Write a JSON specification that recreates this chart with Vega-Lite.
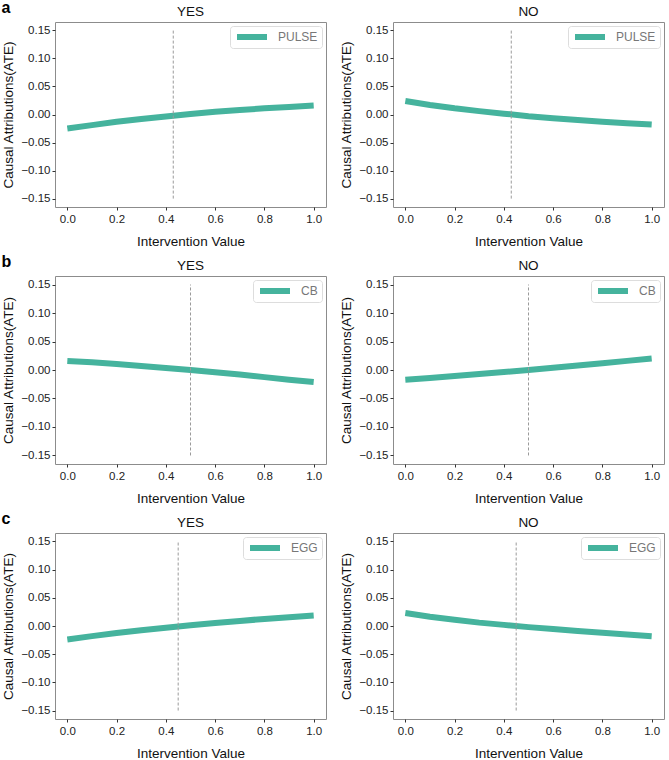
{
  "$schema": "https://vega.github.io/schema/vega-lite/v6.json",
  "padding": {"left": 1, "top": 0, "right": 4, "bottom": 1},
  "background": "white",
  "config": {
    "font": "Liberation Sans",
    "view": {"stroke": "#8c8c8c", "strokeWidth": 1},
    "axis": {"grid": false, "domain": false, "tickColor": "#333", "tickSize": 3, "labelColor": "#222", "labelFontSize": 11.5, "labelFont": "Liberation Sans", "labelOverlap": false, "titleFont": "Liberation Sans", "titleFontSize": 13.5, "titleFontWeight": "normal", "titleColor": "#111"},
    "axisX": {"titlePadding": 10, "labelPadding": 3},
    "axisY": {"titlePadding": 5, "labelPadding": 2},
    "title": {"font": "Liberation Sans", "fontSize": 13.5, "fontWeight": "normal", "color": "#111", "offset": 0},
    "legend": {"orient": "top-right", "offset": 4, "title": null, "strokeColor": "#dddddd", "padding": 4, "cornerRadius": 3, "fillColor": "white", "symbolType": "stroke", "symbolStrokeWidth": 6, "symbolSize": 900, "clipHeight": 14, "labelColor": "#777", "labelFontSize": 12, "labelFont": "Liberation Sans", "labelOffset": 8}
  },
  "datasets": {
    "curves": [
      {"p": "a", "c": "YES", "f": "PULSE", "x": 0.0, "y": -0.025},
      {"p": "a", "c": "YES", "f": "PULSE", "x": 0.1, "y": -0.019},
      {"p": "a", "c": "YES", "f": "PULSE", "x": 0.2, "y": -0.013},
      {"p": "a", "c": "YES", "f": "PULSE", "x": 0.3, "y": -0.008},
      {"p": "a", "c": "YES", "f": "PULSE", "x": 0.4, "y": -0.0035},
      {"p": "a", "c": "YES", "f": "PULSE", "x": 0.5, "y": 0.001},
      {"p": "a", "c": "YES", "f": "PULSE", "x": 0.6, "y": 0.005},
      {"p": "a", "c": "YES", "f": "PULSE", "x": 0.7, "y": 0.008},
      {"p": "a", "c": "YES", "f": "PULSE", "x": 0.8, "y": 0.011},
      {"p": "a", "c": "YES", "f": "PULSE", "x": 0.9, "y": 0.0135},
      {"p": "a", "c": "YES", "f": "PULSE", "x": 1.0, "y": 0.016},
      {"p": "a", "c": "NO", "f": "PULSE", "x": 0.0, "y": 0.024},
      {"p": "a", "c": "NO", "f": "PULSE", "x": 0.1, "y": 0.017},
      {"p": "a", "c": "NO", "f": "PULSE", "x": 0.2, "y": 0.011},
      {"p": "a", "c": "NO", "f": "PULSE", "x": 0.3, "y": 0.006},
      {"p": "a", "c": "NO", "f": "PULSE", "x": 0.4, "y": 0.0015},
      {"p": "a", "c": "NO", "f": "PULSE", "x": 0.5, "y": -0.003},
      {"p": "a", "c": "NO", "f": "PULSE", "x": 0.6, "y": -0.0065},
      {"p": "a", "c": "NO", "f": "PULSE", "x": 0.7, "y": -0.01},
      {"p": "a", "c": "NO", "f": "PULSE", "x": 0.8, "y": -0.013},
      {"p": "a", "c": "NO", "f": "PULSE", "x": 0.9, "y": -0.0155},
      {"p": "a", "c": "NO", "f": "PULSE", "x": 1.0, "y": -0.018},
      {"p": "b", "c": "YES", "f": "CB", "x": 0.0, "y": 0.016},
      {"p": "b", "c": "YES", "f": "CB", "x": 0.1, "y": 0.0135},
      {"p": "b", "c": "YES", "f": "CB", "x": 0.2, "y": 0.0105},
      {"p": "b", "c": "YES", "f": "CB", "x": 0.3, "y": 0.007},
      {"p": "b", "c": "YES", "f": "CB", "x": 0.4, "y": 0.0035},
      {"p": "b", "c": "YES", "f": "CB", "x": 0.5, "y": 0.0},
      {"p": "b", "c": "YES", "f": "CB", "x": 0.6, "y": -0.004},
      {"p": "b", "c": "YES", "f": "CB", "x": 0.7, "y": -0.008},
      {"p": "b", "c": "YES", "f": "CB", "x": 0.8, "y": -0.0125},
      {"p": "b", "c": "YES", "f": "CB", "x": 0.9, "y": -0.017},
      {"p": "b", "c": "YES", "f": "CB", "x": 1.0, "y": -0.021},
      {"p": "b", "c": "NO", "f": "CB", "x": 0.0, "y": -0.017},
      {"p": "b", "c": "NO", "f": "CB", "x": 0.1, "y": -0.014},
      {"p": "b", "c": "NO", "f": "CB", "x": 0.2, "y": -0.0105},
      {"p": "b", "c": "NO", "f": "CB", "x": 0.3, "y": -0.007},
      {"p": "b", "c": "NO", "f": "CB", "x": 0.4, "y": -0.0035},
      {"p": "b", "c": "NO", "f": "CB", "x": 0.5, "y": 0.0},
      {"p": "b", "c": "NO", "f": "CB", "x": 0.6, "y": 0.004},
      {"p": "b", "c": "NO", "f": "CB", "x": 0.7, "y": 0.008},
      {"p": "b", "c": "NO", "f": "CB", "x": 0.8, "y": 0.012},
      {"p": "b", "c": "NO", "f": "CB", "x": 0.9, "y": 0.016},
      {"p": "b", "c": "NO", "f": "CB", "x": 1.0, "y": 0.02},
      {"p": "c", "c": "YES", "f": "EGG", "x": 0.0, "y": -0.024},
      {"p": "c", "c": "YES", "f": "EGG", "x": 0.1, "y": -0.018},
      {"p": "c", "c": "YES", "f": "EGG", "x": 0.2, "y": -0.0125},
      {"p": "c", "c": "YES", "f": "EGG", "x": 0.3, "y": -0.0075},
      {"p": "c", "c": "YES", "f": "EGG", "x": 0.4, "y": -0.003},
      {"p": "c", "c": "YES", "f": "EGG", "x": 0.5, "y": 0.0015},
      {"p": "c", "c": "YES", "f": "EGG", "x": 0.6, "y": 0.0055},
      {"p": "c", "c": "YES", "f": "EGG", "x": 0.7, "y": 0.009},
      {"p": "c", "c": "YES", "f": "EGG", "x": 0.8, "y": 0.0125},
      {"p": "c", "c": "YES", "f": "EGG", "x": 0.9, "y": 0.0155},
      {"p": "c", "c": "YES", "f": "EGG", "x": 1.0, "y": 0.0185},
      {"p": "c", "c": "NO", "f": "EGG", "x": 0.0, "y": 0.023},
      {"p": "c", "c": "NO", "f": "EGG", "x": 0.1, "y": 0.0165},
      {"p": "c", "c": "NO", "f": "EGG", "x": 0.2, "y": 0.011},
      {"p": "c", "c": "NO", "f": "EGG", "x": 0.3, "y": 0.006},
      {"p": "c", "c": "NO", "f": "EGG", "x": 0.4, "y": 0.002},
      {"p": "c", "c": "NO", "f": "EGG", "x": 0.5, "y": -0.002},
      {"p": "c", "c": "NO", "f": "EGG", "x": 0.6, "y": -0.0055},
      {"p": "c", "c": "NO", "f": "EGG", "x": 0.7, "y": -0.009},
      {"p": "c", "c": "NO", "f": "EGG", "x": 0.8, "y": -0.012},
      {"p": "c", "c": "NO", "f": "EGG", "x": 0.9, "y": -0.015},
      {"p": "c", "c": "NO", "f": "EGG", "x": 1.0, "y": -0.018}
    ],
    "vlines": [
      {"p": "a", "x": 0.43},
      {"p": "b", "x": 0.5},
      {"p": "c", "x": 0.45}
    ]
  },
  "resolve": {"scale": {"color": "independent"}, "legend": {"color": "independent"}},
  "spacing": 5,
  "vconcat": [
    {
      "title": {"text": "a", "anchor": "start", "fontSize": 16, "fontWeight": "bold", "color": "#000", "offset": -12},
      "spacing": 12,
      "resolve": {"scale": {"color": "independent"}, "legend": {"color": "independent"}},
      "hconcat": [
        {"title": "YES", "width": 271, "height": 185,
          "encoding": {"x": {"field": "x", "type": "quantitative", "title": "Intervention Value", "scale": {"domain": [-0.05, 1.05], "nice": false, "zero": false}, "axis": {"values": [0, 0.2, 0.4, 0.6, 0.8, 1.0], "format": ".1f"}}},
          "layer": [
            {"data": {"name": "curves"}, "transform": [{"filter": "datum.p == 'a' && datum.c == 'YES'"}], "mark": {"type": "line", "strokeWidth": 6, "strokeCap": "butt"}, "encoding": {"y": {"field": "y", "type": "quantitative", "title": "Causal Attributions(ATE)", "scale": {"domain": [-0.165, 0.165], "nice": false, "zero": false}, "axis": {"values": [-0.15, -0.1, -0.05, 0, 0.05, 0.1, 0.15], "format": ".2f"}}, "color": {"field": "f", "type": "nominal", "scale": {"range": ["#45b39d"]}}}},
            {"data": {"name": "vlines"}, "transform": [{"filter": "datum.p == 'a'"}], "mark": {"type": "rule", "color": "#9a9a9a", "strokeWidth": 1, "strokeDash": [3, 2]}, "encoding": {"y": {"datum": -0.15, "type": "quantitative", "title": "Causal Attributions(ATE)", "scale": {"domain": [-0.165, 0.165], "nice": false, "zero": false}, "axis": {"values": [-0.15, -0.1, -0.05, 0, 0.05, 0.1, 0.15], "format": ".2f"}}, "y2": {"datum": 0.15}}}
          ]
        },
        {"title": "NO", "width": 271, "height": 185,
          "encoding": {"x": {"field": "x", "type": "quantitative", "title": "Intervention Value", "scale": {"domain": [-0.05, 1.05], "nice": false, "zero": false}, "axis": {"values": [0, 0.2, 0.4, 0.6, 0.8, 1.0], "format": ".1f"}}},
          "layer": [
            {"data": {"name": "curves"}, "transform": [{"filter": "datum.p == 'a' && datum.c == 'NO'"}], "mark": {"type": "line", "strokeWidth": 6, "strokeCap": "butt"}, "encoding": {"y": {"field": "y", "type": "quantitative", "title": "Causal Attributions(ATE)", "scale": {"domain": [-0.165, 0.165], "nice": false, "zero": false}, "axis": {"values": [-0.15, -0.1, -0.05, 0, 0.05, 0.1, 0.15], "format": ".2f"}}, "color": {"field": "f", "type": "nominal", "scale": {"range": ["#45b39d"]}}}},
            {"data": {"name": "vlines"}, "transform": [{"filter": "datum.p == 'a'"}], "mark": {"type": "rule", "color": "#9a9a9a", "strokeWidth": 1, "strokeDash": [3, 2]}, "encoding": {"y": {"datum": -0.15, "type": "quantitative", "title": "Causal Attributions(ATE)", "scale": {"domain": [-0.165, 0.165], "nice": false, "zero": false}, "axis": {"values": [-0.15, -0.1, -0.05, 0, 0.05, 0.1, 0.15], "format": ".2f"}}, "y2": {"datum": 0.15}}}
          ]
        }
      ]
    },
    {
      "title": {"text": "b", "anchor": "start", "fontSize": 16, "fontWeight": "bold", "color": "#000", "offset": -12},
      "spacing": 12,
      "resolve": {"scale": {"color": "independent"}, "legend": {"color": "independent"}},
      "hconcat": [
        {"title": "YES", "width": 271, "height": 188,
          "encoding": {"x": {"field": "x", "type": "quantitative", "title": "Intervention Value", "scale": {"domain": [-0.05, 1.05], "nice": false, "zero": false}, "axis": {"values": [0, 0.2, 0.4, 0.6, 0.8, 1.0], "format": ".1f"}}},
          "layer": [
            {"data": {"name": "curves"}, "transform": [{"filter": "datum.p == 'b' && datum.c == 'YES'"}], "mark": {"type": "line", "strokeWidth": 6, "strokeCap": "butt"}, "encoding": {"y": {"field": "y", "type": "quantitative", "title": "Causal Attributions(ATE)", "scale": {"domain": [-0.165, 0.165], "nice": false, "zero": false}, "axis": {"values": [-0.15, -0.1, -0.05, 0, 0.05, 0.1, 0.15], "format": ".2f"}}, "color": {"field": "f", "type": "nominal", "scale": {"range": ["#45b39d"]}}}},
            {"data": {"name": "vlines"}, "transform": [{"filter": "datum.p == 'b'"}], "mark": {"type": "rule", "color": "#9a9a9a", "strokeWidth": 1, "strokeDash": [3, 2]}, "encoding": {"y": {"datum": -0.15, "type": "quantitative", "title": "Causal Attributions(ATE)", "scale": {"domain": [-0.165, 0.165], "nice": false, "zero": false}, "axis": {"values": [-0.15, -0.1, -0.05, 0, 0.05, 0.1, 0.15], "format": ".2f"}}, "y2": {"datum": 0.15}}}
          ]
        },
        {"title": "NO", "width": 271, "height": 188,
          "encoding": {"x": {"field": "x", "type": "quantitative", "title": "Intervention Value", "scale": {"domain": [-0.05, 1.05], "nice": false, "zero": false}, "axis": {"values": [0, 0.2, 0.4, 0.6, 0.8, 1.0], "format": ".1f"}}},
          "layer": [
            {"data": {"name": "curves"}, "transform": [{"filter": "datum.p == 'b' && datum.c == 'NO'"}], "mark": {"type": "line", "strokeWidth": 6, "strokeCap": "butt"}, "encoding": {"y": {"field": "y", "type": "quantitative", "title": "Causal Attributions(ATE)", "scale": {"domain": [-0.165, 0.165], "nice": false, "zero": false}, "axis": {"values": [-0.15, -0.1, -0.05, 0, 0.05, 0.1, 0.15], "format": ".2f"}}, "color": {"field": "f", "type": "nominal", "scale": {"range": ["#45b39d"]}}}},
            {"data": {"name": "vlines"}, "transform": [{"filter": "datum.p == 'b'"}], "mark": {"type": "rule", "color": "#9a9a9a", "strokeWidth": 1, "strokeDash": [3, 2]}, "encoding": {"y": {"datum": -0.15, "type": "quantitative", "title": "Causal Attributions(ATE)", "scale": {"domain": [-0.165, 0.165], "nice": false, "zero": false}, "axis": {"values": [-0.15, -0.1, -0.05, 0, 0.05, 0.1, 0.15], "format": ".2f"}}, "y2": {"datum": 0.15}}}
          ]
        }
      ]
    },
    {
      "title": {"text": "c", "anchor": "start", "fontSize": 16, "fontWeight": "bold", "color": "#000", "offset": -12},
      "spacing": 12,
      "resolve": {"scale": {"color": "independent"}, "legend": {"color": "independent"}},
      "hconcat": [
        {"title": "YES", "width": 271, "height": 186,
          "encoding": {"x": {"field": "x", "type": "quantitative", "title": "Intervention Value", "scale": {"domain": [-0.05, 1.05], "nice": false, "zero": false}, "axis": {"values": [0, 0.2, 0.4, 0.6, 0.8, 1.0], "format": ".1f"}}},
          "layer": [
            {"data": {"name": "curves"}, "transform": [{"filter": "datum.p == 'c' && datum.c == 'YES'"}], "mark": {"type": "line", "strokeWidth": 6, "strokeCap": "butt"}, "encoding": {"y": {"field": "y", "type": "quantitative", "title": "Causal Attributions(ATE)", "scale": {"domain": [-0.165, 0.165], "nice": false, "zero": false}, "axis": {"values": [-0.15, -0.1, -0.05, 0, 0.05, 0.1, 0.15], "format": ".2f"}}, "color": {"field": "f", "type": "nominal", "scale": {"range": ["#45b39d"]}}}},
            {"data": {"name": "vlines"}, "transform": [{"filter": "datum.p == 'c'"}], "mark": {"type": "rule", "color": "#9a9a9a", "strokeWidth": 1, "strokeDash": [3, 2]}, "encoding": {"y": {"datum": -0.15, "type": "quantitative", "title": "Causal Attributions(ATE)", "scale": {"domain": [-0.165, 0.165], "nice": false, "zero": false}, "axis": {"values": [-0.15, -0.1, -0.05, 0, 0.05, 0.1, 0.15], "format": ".2f"}}, "y2": {"datum": 0.15}}}
          ]
        },
        {"title": "NO", "width": 271, "height": 186,
          "encoding": {"x": {"field": "x", "type": "quantitative", "title": "Intervention Value", "scale": {"domain": [-0.05, 1.05], "nice": false, "zero": false}, "axis": {"values": [0, 0.2, 0.4, 0.6, 0.8, 1.0], "format": ".1f"}}},
          "layer": [
            {"data": {"name": "curves"}, "transform": [{"filter": "datum.p == 'c' && datum.c == 'NO'"}], "mark": {"type": "line", "strokeWidth": 6, "strokeCap": "butt"}, "encoding": {"y": {"field": "y", "type": "quantitative", "title": "Causal Attributions(ATE)", "scale": {"domain": [-0.165, 0.165], "nice": false, "zero": false}, "axis": {"values": [-0.15, -0.1, -0.05, 0, 0.05, 0.1, 0.15], "format": ".2f"}}, "color": {"field": "f", "type": "nominal", "scale": {"range": ["#45b39d"]}}}},
            {"data": {"name": "vlines"}, "transform": [{"filter": "datum.p == 'c'"}], "mark": {"type": "rule", "color": "#9a9a9a", "strokeWidth": 1, "strokeDash": [3, 2]}, "encoding": {"y": {"datum": -0.15, "type": "quantitative", "title": "Causal Attributions(ATE)", "scale": {"domain": [-0.165, 0.165], "nice": false, "zero": false}, "axis": {"values": [-0.15, -0.1, -0.05, 0, 0.05, 0.1, 0.15], "format": ".2f"}}, "y2": {"datum": 0.15}}}
          ]
        }
      ]
    }
  ]
}
